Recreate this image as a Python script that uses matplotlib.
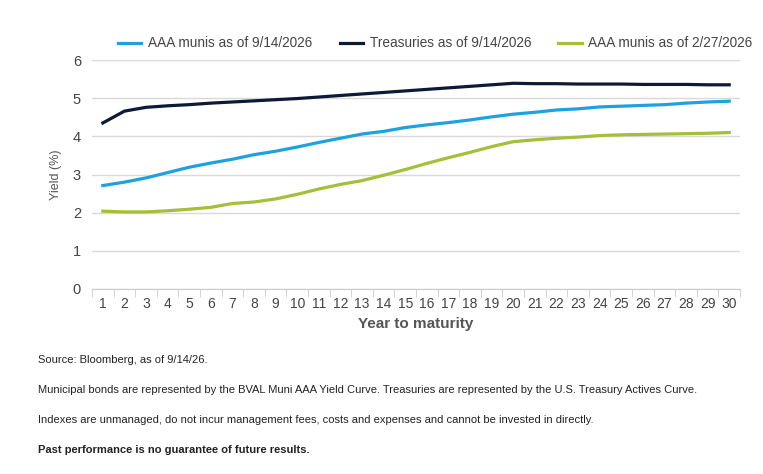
import matplotlib
matplotlib.use("Agg")
import matplotlib.pyplot as plt

years = list(range(1, 31))
munis_now = [2.71,2.80,2.91,3.05,3.19,3.30,3.40,3.52,3.61,3.72,3.84,3.95,4.06,4.13,4.23,4.30,4.36,4.43,4.51,4.58,4.63,4.69,4.72,4.77,4.79,4.81,4.83,4.87,4.90,4.92]
treasuries = [4.35,4.66,4.76,4.80,4.83,4.87,4.90,4.93,4.96,4.99,5.03,5.07,5.11,5.15,5.19,5.23,5.27,5.31,5.35,5.39,5.38,5.38,5.37,5.37,5.37,5.36,5.36,5.36,5.35,5.35]
munis_feb = [2.04,2.02,2.02,2.05,2.09,2.14,2.24,2.28,2.36,2.48,2.62,2.74,2.84,2.98,3.13,3.29,3.44,3.58,3.73,3.86,3.91,3.95,3.98,4.02,4.04,4.05,4.06,4.07,4.08,4.10]
labels = ["AAA munis as of 9/14/2026", "Treasuries as of 9/14/2026", "AAA munis as of 2/27/2026"]
colors = ["#1ea2df", "#0c1a38", "#a4bf38"]

plt.rcParams['font.family'] = ['Liberation Sans', 'DejaVu Sans']
fig = plt.figure(figsize=(7.63, 4.74), dpi=100)
ax = fig.add_axes([92/763, 1-289/474, (740-92)/763, 229/474])
for y, l, c in zip([munis_now, treasuries, munis_feb], labels, colors):
    ax.plot(years, y, color=c, lw=2.3, label=l)
ax.set_xlim(0.5, 30.5)
ax.set_ylim(0, 6)
ax.set_yticks(range(7))
ax.set_xticks(years)
ax.set_xticks([x + 0.5 for x in range(0, 31)], minor=True)
ax.tick_params(axis='x', which='major', length=0, labelsize=10, colors='#444444', pad=6)
ax.tick_params(axis='x', which='minor', length=6, color='#cccccc')
ax.tick_params(axis='y', length=0, labelsize=10.5, colors='#444444', pad=8)
ax.grid(axis='y', color='#d9d9d9', lw=1)
for s in ['top', 'right', 'left']:
    ax.spines[s].set_visible(False)
ax.spines['bottom'].set_color('#cccccc')
ax.set_axisbelow(True)
ax.set_xlabel("Year to maturity", fontsize=11, color='#555555', fontweight='bold', labelpad=4)
ax.set_ylabel("Yield (%)", fontsize=9, color='#555555', labelpad=8)
ax.legend(loc='lower center', bbox_to_anchor=(0.53, 1.0), ncol=3, frameon=False,
          fontsize=9.8, labelcolor='#444444', handlelength=1.7, handletextpad=0.5,
          columnspacing=2.0, borderaxespad=0.3)
notes = ["Source: Bloomberg, as of 9/14/26.",
         "Municipal bonds are represented by the BVAL Muni AAA Yield Curve. Treasuries are represented by the U.S. Treasury Actives Curve.",
         "Indexes are unmanaged, do not incur management fees, costs and expenses and cannot be invested in directly."]
for i, t in enumerate(notes):
    fig.text(38/763, 1-(360+30*i)/474, t, fontsize=8, color='#222222', va='center')
fig.text(38/763, 1-450/474, "Past performance is no guarantee of future results.", fontsize=8,
         color='#222222', va='center', fontweight='bold')
fig.savefig("out.png", dpi=100)
